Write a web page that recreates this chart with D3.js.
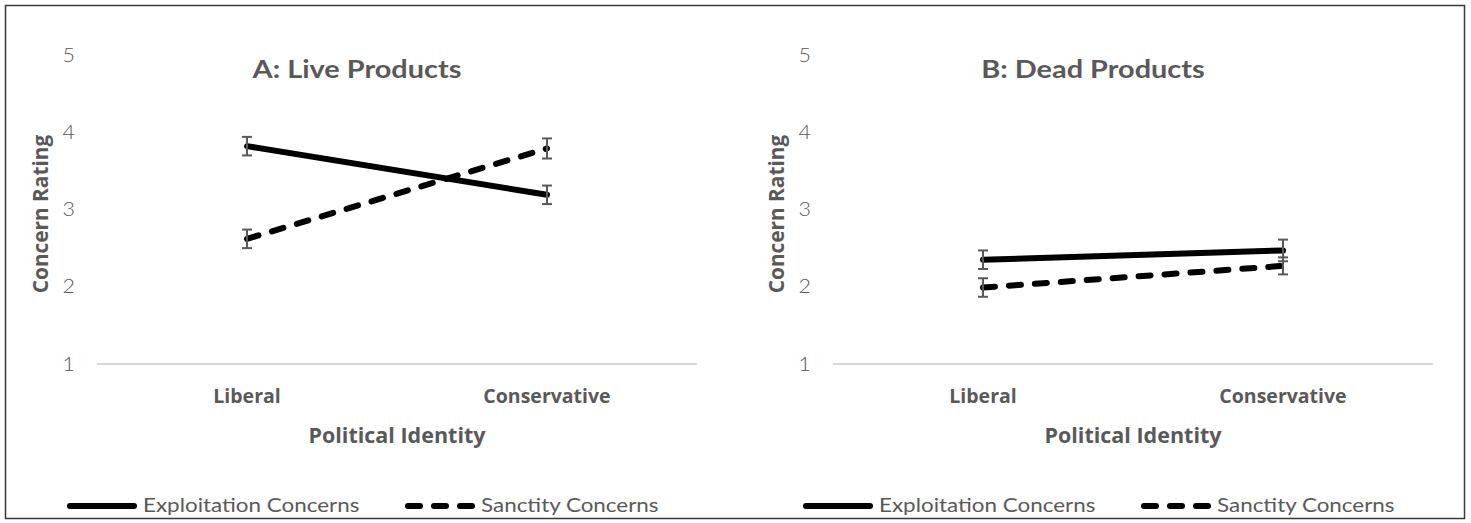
<!DOCTYPE html>
<html><head><meta charset="utf-8">
<script src="https://cdn.jsdelivr.net/npm/d3@7"></script>
<style>
body{margin:0;background:#fff;}
svg{display:block;}
</style></head>
<body>
<svg id="c" width="1471" height="523"></svg>
<script>
const categories = ["Liberal", "Conservative"];
const yTicks = [1, 2, 3, 4, 5];
const panelTitles = ["A: Live Products", "B: Dead Products"];
const seriesNames = ["Exploitation Concerns", "Sanctity Concerns"];
// Panel A
const liveExploitation = [3.82, 3.19];
const liveExploitationErr = [0.12, 0.12];
const liveSanctity = [2.62, 3.79];
const liveSanctityErr = [0.12, 0.13];
// Panel B
const deadExploitation = [2.35, 2.47];
const deadExploitationErr = [0.12, 0.14];
const deadSanctity = [1.99, 2.27];
const deadSanctityErr = [0.12, 0.11];

const panels = [
  {title: panelTitles[0], series: [
    {name: seriesNames[0], values: liveExploitation, err: liveExploitationErr, dashed: false},
    {name: seriesNames[1], values: liveSanctity, err: liveSanctityErr, dashed: true}]},
  {title: panelTitles[1], series: [
    {name: seriesNames[0], values: deadExploitation, err: deadExploitationErr, dashed: false},
    {name: seriesNames[1], values: deadSanctity, err: deadSanctityErr, dashed: true}]}
];

const svg = d3.select("#c");
svg.append("rect").attr("x", 5.5).attr("y", 5.5).attr("width", 1459).attr("height", 513)
  .attr("fill", "none").attr("stroke", "#3a3a3a").attr("stroke-width", 1.5);

const gray = "#595959";
const lightFont = "Lato, 'Liberation Sans', sans-serif";
const boldFont = "'Open Sans', 'Liberation Sans', sans-serif";
const offsets = [0, 736];

// helper: horizontally stretched text (the reference glyphs are wide)
function wideText(g, x, y, sx, anchor) {
  return g.append("g").attr("transform", `translate(${x},${y}) scale(${sx},1)`)
    .append("text").attr("text-anchor", anchor);
}

panels.forEach((p, i) => {
  const ox = offsets[i];
  const g = svg.append("g").attr("transform", `translate(${ox},0)`);
  const x = d3.scaleBand().domain(categories).range([97, 697]);
  const y = d3.scaleLinear().domain([1, 5]).range([364, 55]);

  // baseline gridline
  g.append("line").attr("x1", 97).attr("x2", 697).attr("y1", y(1)).attr("y2", y(1))
    .attr("stroke", "#d9d9d9").attr("stroke-width", 2);

  // y axis
  const ya = g.append("g").attr("transform", "translate(75,0)")
    .call(d3.axisLeft(y).tickValues(yTicks).tickSize(0).tickPadding(0).tickFormat(d3.format("d")));
  ya.select(".domain").remove();
  ya.selectAll(".tick text").attr("font-family", lightFont).attr("font-size", 19.5)
    .attr("fill", gray).attr("font-weight", 300)
    .attr("transform", "scale(1.1,1)");

  // x axis labels
  const xa = g.append("g").attr("transform", `translate(0,${y(1)})`)
    .call(d3.axisBottom(x).tickSize(0).tickPadding(25));
  xa.select(".domain").remove();
  xa.selectAll("text").attr("font-family", boldFont).attr("font-weight", 700)
    .attr("font-size", 19.5).attr("fill", gray);

  // titles
  wideText(g, 357, 78, 1.18, "middle")
    .attr("font-family", lightFont).attr("font-weight", 700).attr("font-size", 24.5)
    .attr("fill", gray).text(p.title);
  g.append("text").attr("x", 397).attr("y", 443).attr("text-anchor", "middle")
    .attr("font-family", boldFont).attr("font-weight", 700).attr("font-size", 21.5)
    .attr("fill", gray).text("Political Identity");
  g.append("text").attr("transform", `translate(48,214) rotate(-90)`)
    .attr("text-anchor", "middle")
    .attr("font-family", boldFont).attr("font-weight", 700).attr("font-size", 20.8)
    .attr("fill", gray).text("Concern Rating");

  const cx = c => x(c) + x.bandwidth() / 2;
  const line = d3.line().x(d => cx(d.c)).y(d => y(d.v));

  p.series.forEach(s => {
    const pts = categories.map((c, k) => ({c, v: s.values[k], e: s.err[k]}));
    g.append("path").datum(pts).attr("d", line).attr("fill", "none")
      .attr("stroke", "#000").attr("stroke-width", 6).attr("stroke-linecap", "round")
      .attr("stroke-dasharray", s.dashed ? "12,14" : null);
    pts.forEach(d => {
      const eg = g.append("g").attr("stroke", gray).attr("stroke-width", 2);
      eg.append("line").attr("x1", cx(d.c)).attr("x2", cx(d.c)).attr("y1", y(d.v + d.e)).attr("y2", y(d.v - d.e));
      eg.append("line").attr("x1", cx(d.c) - 5).attr("x2", cx(d.c) + 5).attr("y1", y(d.v + d.e)).attr("y2", y(d.v + d.e));
      eg.append("line").attr("x1", cx(d.c) - 5).attr("x2", cx(d.c) + 5).attr("y1", y(d.v - d.e)).attr("y2", y(d.v - d.e));
    });
  });

  // legend
  const legX = [70, 408];
  p.series.forEach((s, k) => {
    g.append("line").attr("x1", legX[k]).attr("x2", legX[k] + 64).attr("y1", 506).attr("y2", 506)
      .attr("stroke", "#000").attr("stroke-width", 6).attr("stroke-linecap", "round")
      .attr("stroke-dasharray", s.dashed ? "12,14" : null);
    wideText(g, legX[k] + 73, 512, 1.18, "start")
      .attr("font-family", lightFont).attr("font-size", 19).attr("fill", gray).attr("font-weight", 400)
      .text(s.name);
  });
});
</script>
</body></html>
